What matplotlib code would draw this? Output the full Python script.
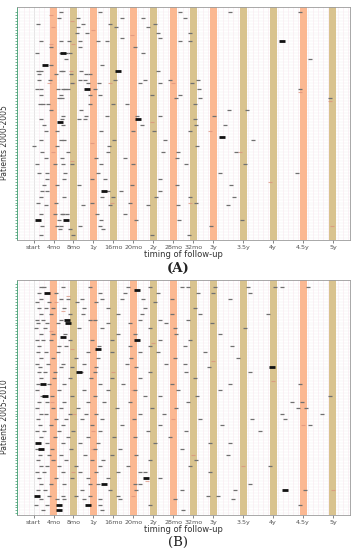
import matplotlib
matplotlib.use("Agg")
import matplotlib.pyplot as plt
import numpy as np

# follow-up schedule (months) and tick labels
visit_months = [0, 4, 8, 12, 16, 20, 24, 28, 32, 36, 42, 48, 54, 60]
visit_labels = ["start", "4mo", "8mo", "1y", "16mo", "20mo", "2y", "28mo",
                "32mo", "3y", "3.5y", "4y", "4.5y", "5y"]
band_months = [4, 8, 12, 16, 20, 24, 28, 32, 36, 42, 48, 54, 60]
a_band_kind = ["o", "t", "o", "t", "o", "t", "o", "t", "o", "t", "t", "o", "t"]
b_band_kind = ["o", "t", "o", "t", "o", "t", "o", "t", "t", "t", "t", "o", "t"]

# panel A: patients 2000-2005 (month, patient row)
a_month = [5.4, 13.4, 29.4, 39.4, 53.4,
           5, 9, 17.8, 22, 30.4,
           0.8, 10, 15.4, 24.4,
           9, 16.6, 23,
           8.8, 10.8, 25, 31.4,
           17.8, 25.4,
           1.4, 5.4, 7.2, 9.4, 13, 14.8, 29.4, 31.4,
           3.4, 9.4, 20.4,
           0.6, 5.4, 6.6, 7.4, 22,
           6.6, 55.4,
           3.4, 13.8,
           0.8, 1.4, 5.4, 6, 9.6, 25,
           1, 4.4, 7.6, 10.6, 11.4,
           1, 3.2, 9.4, 10.4, 16.4, 22.4, 27.4, 33,
           7.8, 11, 13.2, 21.4, 25.4, 31.8,
           0.6, 1.4, 4.8, 6, 6.4, 7, 12.4, 33.2, 53.4,
           1.4, 5.4, 11.4, 13.4, 23.8, 29.4,
           5, 5.6, 28.6, 33.4, 59.4,
           1.2, 1.8, 2.8, 11.4, 16, 18.8, 32.4,
           3.4, 9.6, 39.2, 42.8,
           6, 10.6, 14.8, 20.8, 25.4, 36.2,
           1.4, 5.6, 9.2, 10.4, 32.4,
           2, 6, 21.8, 32.6, 38.4,
           2.4, 4.6, 13.6, 20, 24.2, 31.4,
           1.4, 5.4, 6.2, 16.2, 26.4, 44,
           0, 4.6, 15.2, 32.8,
           1.6, 7, 15, 26, 29, 40.6,
           2.4, 5.6, 12.6, 18.4, 28.8,
           0.6, 4.2, 6, 7.8, 13.6, 20, 30.6, 42.4,
           1, 2.6, 6.4, 13, 37.4, 52.8,
           2.6, 6.2, 11.8, 14.4, 25.4,
           2, 4.6, 9.2, 19.8, 28.8, 39.6,
           1.6, 2.6, 15, 17.6, 25.4,
           1.4, 6.2, 13.8, 16, 24.6, 31.4, 40.2,
           0.8, 4.4, 11.8, 19.4, 32.6,
           2.4, 10, 15.4, 23, 29, 39,
           1.4, 4.2, 5.6, 6, 6.8, 12.8, 18.4,
           5, 13.6, 20.6, 29.2, 41.8,
           1.6, 4.6, 5.4, 9.4, 13.4, 35.6,
           5.2, 7.4, 14,
           1.4, 8, 23.8, 31.2]
a_row = [0, 0, 0, 0, 0,
         2, 2, 2, 2, 2,
         4, 4, 4, 4,
         5, 5, 5,
         7, 7, 7, 7,
         9, 9,
         10, 10, 10, 10, 10, 10, 10, 10,
         12, 12, 12,
         14, 14, 14, 14, 14,
         16, 16,
         18, 18,
         20, 20, 20, 20, 20, 20,
         21, 21, 21, 21, 21,
         23, 23, 23, 23, 23, 23, 23, 23,
         24, 24, 24, 24, 24, 24,
         26, 26, 26, 26, 26, 26, 26, 26, 26,
         28, 28, 28, 28, 28, 28,
         29, 29, 29, 29, 29,
         31, 31, 31, 31, 31, 31, 31,
         33, 33, 33, 33,
         35, 35, 35, 35, 35, 35,
         36, 36, 36, 36, 36,
         38, 38, 38, 38, 38,
         40, 40, 40, 40, 40, 40,
         43, 43, 43, 43, 43, 43,
         45, 45, 45, 45,
         47, 47, 47, 47, 47, 47,
         49, 49, 49, 49, 49,
         51, 51, 51, 51, 51, 51, 51, 51,
         54, 54, 54, 54, 54, 54,
         56, 56, 56, 56, 56,
         58, 58, 58, 58, 58, 58,
         60, 60, 60, 60, 60,
         62, 62, 62, 62, 62, 62, 62,
         64, 64, 64, 64, 64,
         65, 65, 65, 65, 65, 65,
         68, 68, 68, 68, 68, 68, 68,
         70, 70, 70, 70, 70,
         72, 72, 72, 72, 72, 72,
         73, 73, 73,
         75, 75, 75, 75]
a_big_month = [2.2, 17, 10.8, 21, 14.2, 0.8, 6.6, 49.8, 37.8, 6, 5.2]
a_big_row = [18, 20, 26, 36, 60, 70, 70, 10, 42, 14, 37]
a_faint_month = [3.4, 3.8, 3.4, 3, 7.8, 8, 7.6, 8, 12, 15.4, 19.8, 28,
                 3.8, 7.8, 11.8, 15.8, 23.8, 31.4, 35.4, 41.4, 53.4, 59.4, 47.4, 59.8]
a_faint_row = [1, 5, 11, 24, 3, 11, 20, 24, 6, 24, 8, 24,
               47, 50, 44, 64, 37, 64, 40, 47, 27, 30, 57, 72]

# panel B: patients 2005-2010 (month, patient row)
b_month = [1.4, 2, 5.8, 11.4, 19, 23.4, 29.8, 31, 36.4, 43, 48.4, 49.8, 55,
           1, 2.6, 4.4, 13.4, 18.4, 25, 33, 36, 43.4,
           1.4, 5.4, 7, 9.8, 13.8, 17.8, 22, 27.8, 39.4,
           0.6, 3, 8.8, 12.6, 24.4,
           1, 2.4, 3.8, 6.2, 10.2, 15, 22.4, 32.4,
           1.4, 3.4, 7.4, 10, 17, 21.8, 27.8, 33.4, 47,
           0.6, 1.8, 5.4, 11.4, 12.4, 21.4, 25.4, 31,
           0.8, 2.6, 4.8, 15, 19.4, 26.6, 35.8,
           0.4, 2.2, 9.2, 13.8, 23.4, 28.4, 42.4,
           1.4, 3.8, 6.4, 17, 20.4, 28.6, 37.4,
           0.6, 1.8, 3.4, 7.4, 11.8, 15.8, 25.4, 31.4,
           1, 5, 6.6, 13.2, 19.4, 23.4, 30.4, 39.8,
           0.8, 2.4, 4.8, 11, 15.8, 21.4, 25, 34.4,
           1.4, 3.8, 8.6, 13, 19.6, 28.4, 41,
           0.6, 2.8, 5.8, 10.2, 18.8, 26.6, 30.4,
           1.2, 5.4, 7.8, 12.6, 20.6, 35.2,
           1, 2.2, 4.2, 9.6, 12.4, 23.4, 30.6, 43.4,
           1.4, 4, 7.4, 11.6, 15.8, 21.4, 32.4,
           0.8, 3, 6.2, 13.4, 18, 27.8, 39.4, 53.4,
           0.6, 5, 10.2, 15, 20.4, 29, 37.4,
           1.6, 3.6, 7.8, 12.4, 22.4, 25.4, 32.8, 59.4,
           1, 2.6, 6.2, 11, 14.2, 19.4, 31, 51.8, 53.8,
           0.6, 3.8, 5.4, 9, 16.8, 23.8, 28.6, 53, 54.6,
           1.4, 2.4, 7.4, 10.6, 12.6, 21.4, 26.2, 49.8, 57.8,
           0.8, 4.4, 6.6, 9.8, 13.8, 20.2, 33.4, 43.8, 50.4,
           1.2, 3.4, 5.8, 11.8, 17.8, 25.4, 37.8, 55.4,
           0.6, 2, 5, 8, 13.4, 23, 30.6, 45.4,
           1.4, 4.2, 7, 11, 16.2, 20.4, 27.4,
           2.6, 6, 9.4, 13, 24.4, 35.4, 39.4,
           0.6, 3.6, 7.6, 12.4, 17.4, 29.8,
           1.2, 3, 5.4, 10.4, 15.8, 20.6, 39,
           0.8, 3.8, 6.6, 11.8, 14, 23.4, 32.6,
           1.4, 2.6, 5, 8.6, 13.4, 19, 31.4, 47.4,
           0.6, 2, 5.8, 9.4, 12.6, 17, 21.4, 22.4, 35.4,
           1, 4.4, 7.8, 11, 15, 25.4,
           1.4, 3.4, 6.2, 11.4, 13, 20.4, 21.4, 43.4,
           0.8, 2.2, 9.8, 15.4, 20.6, 29.8, 40.4, 54.4,
           3, 5.8, 8.6, 11.4, 17, 35, 37,
           1.4, 4.6, 6.2, 10.2, 13.4, 17.4, 28.4, 40,
           0.4, 2.6, 13.4, 23.4, 53.4,
           1.8, 13.8, 30]
b_row = [1, 1, 1, 1, 1, 1, 1, 1, 1, 1, 1, 1, 1,
         3, 3, 3, 3, 3, 3, 3, 3, 3,
         5, 5, 5, 5, 5, 5, 5, 5, 5,
         6, 6, 6, 6, 6,
         8, 8, 8, 8, 8, 8, 8, 8,
         10, 10, 10, 10, 10, 10, 10, 10, 10,
         12, 12, 12, 12, 12, 12, 12, 12,
         13, 13, 13, 13, 13, 13, 13,
         15, 15, 15, 15, 15, 15, 15,
         17, 17, 17, 17, 17, 17, 17,
         19, 19, 19, 19, 19, 19, 19, 19,
         21, 21, 21, 21, 21, 21, 21, 21,
         23, 23, 23, 23, 23, 23, 23, 23,
         25, 25, 25, 25, 25, 25, 25,
         27, 27, 27, 27, 27, 27, 27,
         28, 28, 28, 28, 28, 28,
         30, 30, 30, 30, 30, 30, 30, 30,
         32, 32, 32, 32, 32, 32, 32,
         34, 34, 34, 34, 34, 34, 34, 34,
         36, 36, 36, 36, 36, 36, 36,
         38, 38, 38, 38, 38, 38, 38, 38,
         40, 40, 40, 40, 40, 40, 40, 40, 40,
         42, 42, 42, 42, 42, 42, 42, 42, 42,
         44, 44, 44, 44, 44, 44, 44, 44, 44,
         46, 46, 46, 46, 46, 46, 46, 46, 46,
         48, 48, 48, 48, 48, 48, 48, 48,
         50, 50, 50, 50, 50, 50, 50, 50,
         52, 52, 52, 52, 52, 52, 52,
         54, 54, 54, 54, 54, 54, 54,
         56, 56, 56, 56, 56, 56,
         58, 58, 58, 58, 58, 58, 58,
         60, 60, 60, 60, 60, 60, 60,
         62, 62, 62, 62, 62, 62, 62, 62,
         64, 64, 64, 64, 64, 64, 64, 64, 64,
         66, 66, 66, 66, 66, 66,
         68, 68, 68, 68, 68, 68, 68, 68,
         70, 70, 70, 70, 70, 70, 70, 70,
         72, 72, 72, 72, 72, 72, 72,
         73, 73, 73, 73, 73, 73, 73, 73,
         75, 75, 75, 75, 75,
         77, 77, 77]
b_big_month = [2.6, 20.8, 6.8, 7, 5.8, 20.8, 13, 9.2, 1.8, 2.2, 47.8,
               0.8, 1.4, 22.6, 14.2, 50.4, 0.6, 5, 11, 5]
b_big_row = [3, 2, 12, 13, 18, 19, 22, 30, 34, 38, 28,
             54, 56, 66, 68, 70, 72, 75, 75, 77]
b_faint_month = [4.4, 5.8, 7, 3.4, 7.8, 11.8, 22.8, 3.6, 8.2, 12, 16, 20,
                 24, 28, 32, 36, 42, 48, 54, 60, 4, 8, 12, 20]
b_faint_row = [6, 9, 4, 16, 22, 12, 67, 40, 44, 50, 30, 36,
               20, 46, 58, 26, 62, 33, 48, 70, 60, 64, 56, 72]

band_colors = {"o": "#fbb892", "t": "#d9c38f"}


def draw_panel(ax, months, rows, big_m, big_r, faint_m, faint_r, kinds, nrows, ylabel):
    ax.set_xlim(-3.3, 63.4)
    ax.set_ylim(nrows + 0.5, -1.5)
    # background grid
    for m in range(-3, 64):
        ax.axvline(m, color="#fcebf3", lw=0.5, zorder=0)
    for m in visit_months:
        ax.axvline(m, color="#e2e2e2", lw=0.6, zorder=0)
    for r in range(nrows + 1):
        ax.axhline(r, color="#f0f0f0", lw=0.3, zorder=0)
    # follow-up windows
    for m, k in zip(band_months, kinds):
        ax.axvspan(m - 0.7, m + 0.7, color=band_colors[k], lw=0, zorder=1)
    ax.plot(faint_m, faint_r, ls="none", marker="_", ms=2.6, mew=0.8,
            color="#d98f7a", alpha=0.7, zorder=2)
    ax.plot(months, rows, ls="none", marker="_", ms=2.7, mew=0.9,
            color="#707070", zorder=3)
    ax.plot(big_m, big_r, ls="none", marker="_", ms=3.8, mew=2.0,
            color="#111111", zorder=4)

    ax.set_xticks(visit_months)
    ax.set_xticklabels(visit_labels)
    ax.set_yticks(np.arange(nrows + 1))
    ax.set_yticklabels([])
    ax.tick_params(axis="x", labelsize=4.6, colors="#555555", length=2, width=0.5, pad=1.5)
    ax.tick_params(axis="y", length=1.8, width=0.5, colors="#3d9a6c")
    for s in ax.spines.values():
        s.set_color("#9a9a9a")
        s.set_linewidth(0.6)
    ax.spines["left"].set_color("#3d9a6c")
    ax.set_xlabel("timing of follow-up", fontsize=6, color="#333333", labelpad=0.5)
    ax.set_ylabel(ylabel, fontsize=5.5, color="#333333")
    ax.yaxis.set_label_coords(-0.025, 0.42)


fig = plt.figure(figsize=(3.56, 5.5), dpi=100)
ax1 = fig.add_axes([0.048, 0.564, 0.935, 0.423])
ax2 = fig.add_axes([0.048, 0.064, 0.935, 0.427])

draw_panel(ax1, a_month, a_row, a_big_month, a_big_row, a_faint_month, a_faint_row,
           a_band_kind, 76, "Patients 2000-2005")
draw_panel(ax2, b_month, b_row, b_big_month, b_big_row, b_faint_month, b_faint_row,
           b_band_kind, 78, "Patients 2005-2010")

fig.text(0.5, 0.512, "(A)", ha="center", va="center", fontsize=9.5,
         fontweight="bold", family="DejaVu Serif", color="#222222")
fig.text(0.5, 0.013, "(B)", ha="center", va="center", fontsize=9.5,
         family="DejaVu Serif", color="#222222")

fig.savefig("out.png", dpi=100)
